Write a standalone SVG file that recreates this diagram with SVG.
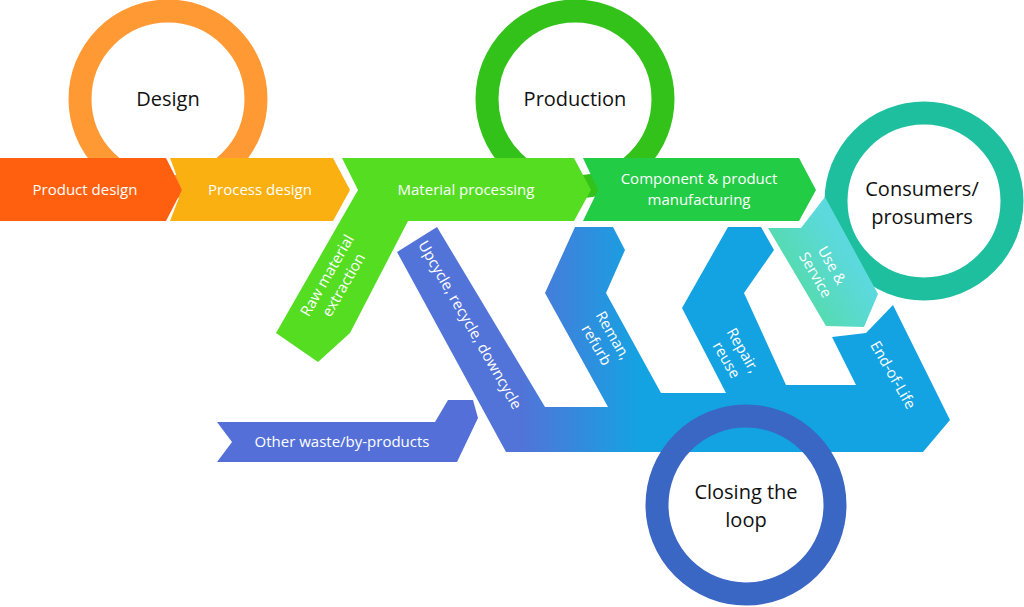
<svg xmlns="http://www.w3.org/2000/svg" width="1024" height="607" viewBox="0 0 1024 607">
<defs>
<linearGradient id="bandGrad" gradientUnits="userSpaceOnUse" x1="520" y1="0" x2="640" y2="0">
<stop offset="0" stop-color="#5273d8"/><stop offset="1" stop-color="#14a3e2"/>
</linearGradient>
<linearGradient id="useGrad" gradientUnits="userSpaceOnUse" x1="800" y1="290" x2="850" y2="260">
<stop offset="0" stop-color="#55dbb0"/><stop offset="1" stop-color="#5bd9dc"/>
</linearGradient>
<style>
.lbl{font-family:"Open Sans","Liberation Sans",sans-serif;font-size:15px;fill:#fff;text-anchor:middle}
.big{font-family:"Open Sans","Liberation Sans",sans-serif;font-size:20px;fill:#111;text-anchor:middle}
.ring{fill:none;stroke-width:23}
</style>
</defs>
<rect width="1024" height="607" fill="#fff"/>
<g id="design"><circle class="ring" cx="168" cy="99" r="88" stroke="#ff9933"/><text class="big" x="168" y="106">Design</text></g>
<g id="production"><circle class="ring" cx="575" cy="99" r="88" stroke="#33c21a"/><text class="big" x="575" y="106">Production</text></g>
<g id="product-design"><polygon points="0,158 166,158 182,190 166,221 0,221" fill="#ff6010"/><text class="lbl" x="85" y="195">Product design</text></g>
<g id="process-design"><polygon points="170,158 333,158 350,190 333,221 170,221 182,190" fill="#fbb011"/><text class="lbl" x="260" y="195">Process design</text></g>
<g id="material-processing"><polygon points="342,158 574,158 591,190 574,221 408,221 350,333 318,362 276,333 358,190" fill="#55dd22"/><text class="lbl" x="466" y="195">Material processing</text>
<text class="lbl" transform="translate(335,280) rotate(-60)"><tspan x="0" y="-4">Raw material</tspan><tspan x="0" y="15">extraction</tspan></text></g>
<g id="component"><polygon points="583,158 799,158 816,190 799,221 583,221 598,190" fill="#22cc44"/><text class="lbl"><tspan x="699" y="184">Component &amp; product</tspan><tspan x="699" y="205">manufacturing</tspan></text></g>
<g id="loop-band"><polygon points="397,252 437,227 545,407 608,407 545,293 575,227 613,227 625,250 606,293 661,393 726,393 682,308 728,227 761,227 774,250 744,293 786,385 856,385 832,337 866,333 893,305 950,420 923,452 506,452" fill="url(#bandGrad)"/>
<text class="lbl" transform="translate(470,325) rotate(60)" y="5">Upcycle, recycle, downcycle</text>
<text class="lbl" transform="translate(605,340) rotate(60)"><tspan x="0" y="-4">Reman,</tspan><tspan x="0" y="15">refurb</tspan></text>
<text class="lbl" transform="translate(735,355) rotate(60)"><tspan x="0" y="-4">Repair,</tspan><tspan x="0" y="15">reuse</tspan></text>
<text class="lbl" transform="translate(893,375) rotate(60)" y="5">End-of-Life</text></g>
<g id="other-waste"><polygon points="217,422 435,422 448,400 473,400 478,418 457,462 217,462 232,442" fill="#5470d8"/><text class="lbl" x="342" y="447">Other waste/by-products</text></g>
<g id="consumers"><circle class="ring" cx="924" cy="201" r="88" stroke="#1dbf9f"/><text class="big"><tspan x="922" y="196">Consumers/</tspan><tspan x="922" y="224">prosumers</tspan></text></g>
<g id="use-service"><polygon points="768,228 801,228 825,197 878,294 864,327 826,326" fill="url(#useGrad)"/>
<text class="lbl" transform="translate(824,270) rotate(60)"><tspan x="0" y="-4">Use &amp;</tspan><tspan x="0" y="15">Service</tspan></text></g>
<g id="closing"><circle class="ring" cx="746" cy="505" r="89" stroke="#3a66c4"/><text class="big"><tspan x="746" y="499">Closing the</tspan><tspan x="746" y="527">loop</tspan></text></g>
<g id="connectors"/>
</svg>
